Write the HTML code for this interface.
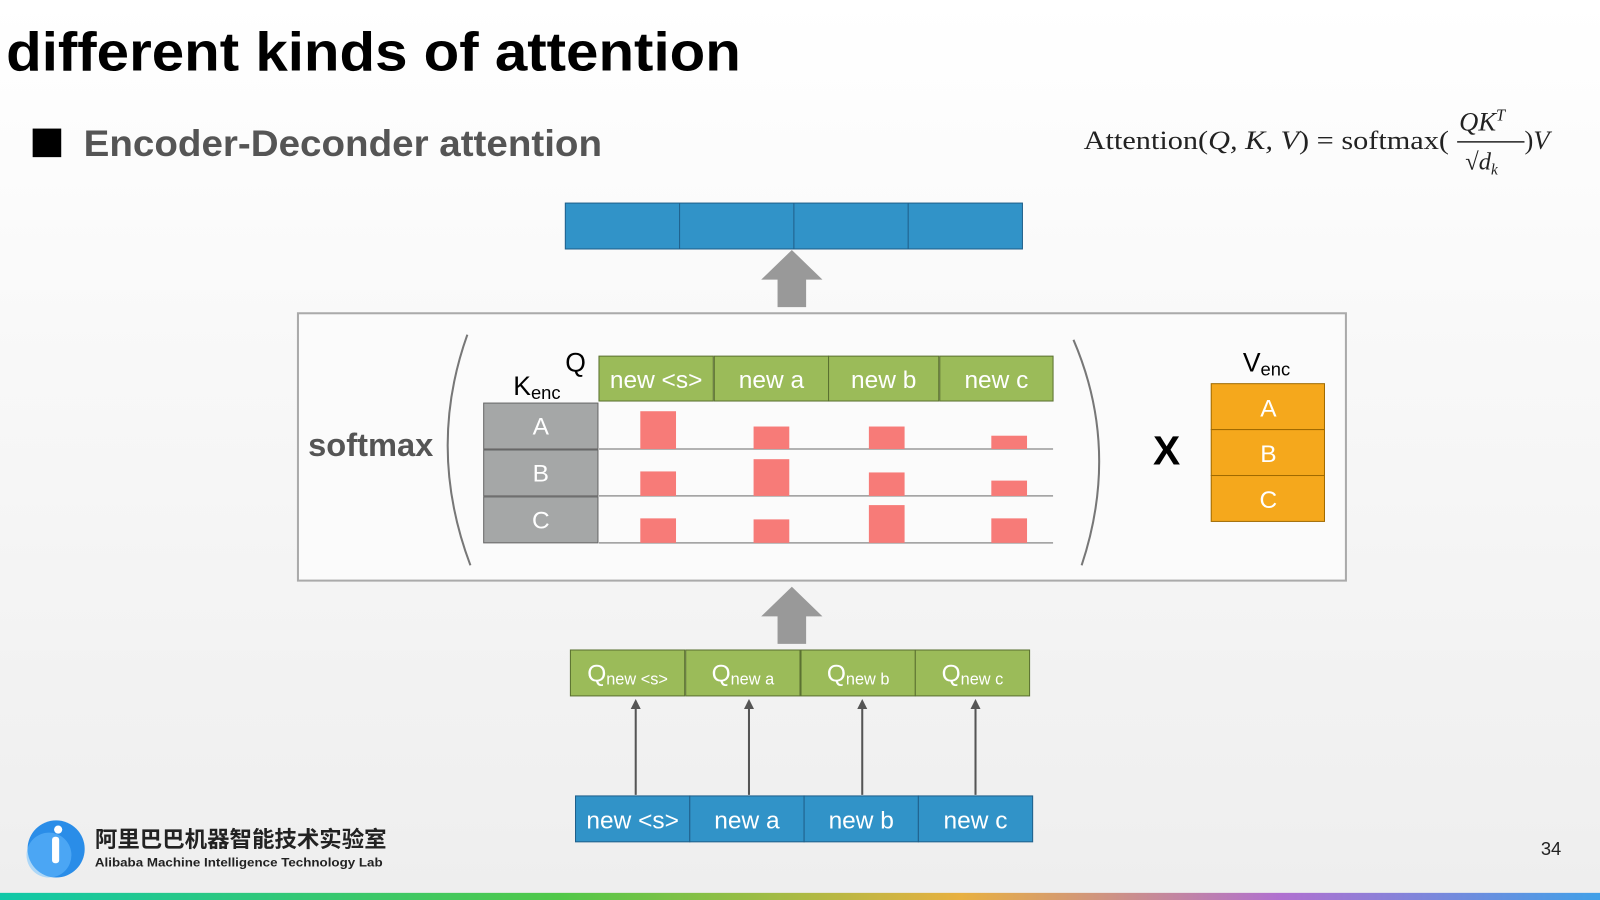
<!DOCTYPE html>
<html><head><meta charset="utf-8"><style>
html,body{margin:0;padding:0;width:1600px;height:900px;overflow:hidden;background:#fff}
svg{display:block}
text{font-family:"Liberation Sans","Noto Sans CJK SC",sans-serif}
text.serif{font-family:"Liberation Serif",serif}
</style></head><body>
<svg width="1600" height="900" viewBox="0 0 1568 882">
<defs>
<linearGradient id="bg" x1="0" y1="0" x2="0" y2="1"><stop offset="0" stop-color="#ffffff"/><stop offset="1" stop-color="#eeeeee"/></linearGradient>
<linearGradient id="bar" x1="0" y1="0" x2="1" y2="0"><stop offset="0" stop-color="#10c8a8"/><stop offset="0.35" stop-color="#50c848"/><stop offset="0.6" stop-color="#e8b040"/><stop offset="0.8" stop-color="#b070d0"/><stop offset="1" stop-color="#40a0e8"/></linearGradient>
<marker id="ah" viewBox="0 0 10 10" refX="5" refY="5" markerWidth="5" markerHeight="5" orient="auto"><path d="M0,0L10,5L0,10z" fill="#555"/></marker>
</defs>
<rect width="1568" height="882" fill="url(#bg)"/>
<rect y="875" width="1568" height="7" fill="url(#bar)"/>
<text x="6" y="69" font-size="54" font-weight="bold" fill="#000" textLength="720" lengthAdjust="spacingAndGlyphs">different kinds of attention</text>
<rect x="32" y="126" width="28" height="28" fill="#000"/>
<text x="82" y="153" font-size="36" font-weight="bold" fill="#555" textLength="508" lengthAdjust="spacingAndGlyphs">Encoder-Deconder attention</text>
<text class="serif" x="1062" y="146" font-size="26" fill="#222" textLength="358" lengthAdjust="spacingAndGlyphs">Attention(<tspan font-style="italic">Q, K, V</tspan>) = softmax(</text>
<text class="serif" x="1430" y="128" font-size="26" font-style="italic" fill="#222">QK<tspan font-size="16" dy="-10">T</tspan></text>
<line x1="1428" y1="139" x2="1494" y2="139" stroke="#222" stroke-width="1.5"/>
<text class="serif" x="1436" y="166" font-size="24" fill="#222">√<tspan font-style="italic">d</tspan><tspan font-size="15" dy="5" font-style="italic">k</tspan></text>
<text class="serif" x="1494" y="146" font-size="26" fill="#222">)<tspan font-style="italic">V</tspan></text>

<g>
<rect x="554" y="199" width="448" height="45" fill="#3193c8" stroke="#1f5f8a"/>
<line x1="666" y1="199" x2="666" y2="244" stroke="#1f5f8a"/><line x1="778" y1="199" x2="778" y2="244" stroke="#1f5f8a"/><line x1="890" y1="199" x2="890" y2="244" stroke="#1f5f8a"/>
</g>
<path d="M776,245L806,274H790V301H762V274H746Z" fill="#999"/>
<rect x="292" y="307" width="1027" height="262" fill="#fbfbfb" stroke="#aaa" stroke-width="2"/>
<text x="302" y="447" font-size="32" font-weight="bold" fill="#555">softmax</text>
<path d="M458,328Q418,440 461,554" fill="none" stroke="#777" stroke-width="2"/>
<path d="M1052,333Q1098,440 1060,554" fill="none" stroke="#777" stroke-width="2"/>
<text x="554" y="364" font-size="26" fill="#000">Q</text>
<text x="503" y="387" font-size="26" fill="#000">K<tspan font-size="18" dy="4">enc</tspan></text>
<g id="qhead"></g>
<g id="krows"></g>
<g id="heat"></g>
<text x="1130" y="455" font-size="40" font-weight="bold" fill="#000">X</text>
<text x="1218" y="364" font-size="26" fill="#000">V<tspan font-size="18" dy="4">enc</tspan></text>
<g id="vrows"></g>
<path d="M776,575L806,604H790V631H762V604H746Z" fill="#999"/>
<g id="qvec"></g>
<g id="inp"></g>

<g>
<circle cx="55" cy="832" r="28" fill="#2a8de8"/><circle cx="48" cy="838" r="22" fill="#6cc0ff" opacity="0.5"/>
<rect x="51" y="820" width="7" height="26" rx="3" fill="#fff"/><circle cx="57" cy="813" r="4" fill="#fff"/>
<text x="93" y="830" font-size="22" font-weight="bold" fill="#222">阿里巴巴机器智能技术实验室</text>
<text x="93" y="849" font-size="12" font-weight="bold" fill="#222" textLength="282" lengthAdjust="spacingAndGlyphs">Alibaba Machine Intelligence Technology Lab</text>
</g>
<text x="1510" y="838" font-size="18" fill="#222">34</text>
</svg>
<script>
const queries=["new <s>","new a","new b","new c"];
const keys=["A","B","C"];
const weights=[[37,22,22,13],[24,36,23,15],[24,23,37,24]];
const NS="http://www.w3.org/2000/svg";
function mk(tag,attrs,parent,txt){const e=document.createElementNS(NS,tag);for(const k in attrs)e.setAttribute(k,attrs[k]);if(txt!==undefined)e.textContent=txt;parent.appendChild(e);return e;}
const colX=[587,700,812,921],colW=[112,112,108,111];
const colC=[645,756,869,989];
const rowTop=[395,441,487],rowH=45,scale=1;
const qh=document.getElementById('qhead');
queries.forEach((q,i)=>{
 const r=mk('rect',{x:colX[i],y:349,width:colW[i],height:44,fill:'#9bbb59',stroke:'#5a7030'},qh);
 
 
 mk('text',{x:colX[i]+colW[i]/2,y:380,'font-size':24,fill:'#fff','text-anchor':'middle'},qh,q);
});
const kr=document.getElementById('krows'),ht=document.getElementById('heat');
keys.forEach((k,j)=>{
 const r=mk('rect',{x:474,y:rowTop[j],width:112,height:rowH,fill:'#a5a7a7',stroke:'#666'},kr);
 
 
 mk('text',{x:530,y:rowTop[j]+31,'font-size':24,fill:'#fff','text-anchor':'middle'},kr,k);
 const base=rowTop[j]+rowH;
 mk('line',{x1:587,y1:base,x2:1032,y2:base,stroke:'#999','stroke-width':1.5},kr);
 weights[j].forEach((w,i)=>{
  const b=mk('rect',{x:colC[i]-17.5,y:base-w*scale,width:35,height:w*scale,fill:'#f77b78'},ht);
  
  
 });
});
const vr=document.getElementById('vrows');
keys.forEach((k,j)=>{
 const r=mk('rect',{x:1187,y:376+j*45,width:111,height:45,fill:'#f5a81c',stroke:'#a06a00'},vr);
 
 
 mk('text',{x:1243,y:408+j*45,'font-size':24,fill:'#fff','text-anchor':'middle'},vr,k);
});
const qv=document.getElementById('qvec'),ip=document.getElementById('inp');
const qx=[559,672,785,897],ix=[564,676,788,900],ac=[623,734,845,956];
queries.forEach((q,i)=>{
 const r=mk('rect',{x:qx[i],y:637,width:112,height:45,fill:'#9bbb59',stroke:'#5a7030'},qv);
 
 
 const t=mk('text',{x:qx[i]+56,y:668,'font-size':24,fill:'#fff','text-anchor':'middle'},qv,'Q');
 mk('tspan',{'font-size':16,dy:3},t,q);
 const r2=mk('rect',{x:ix[i],y:780,width:112,height:45,fill:'#3193c8',stroke:'#1f5f8a'},ip);
 
 
 mk('text',{x:ix[i]+56,y:812,'font-size':24,fill:'#fff','text-anchor':'middle'},ip,q);
 mk('line',{x1:ac[i],y1:779,x2:ac[i],y2:690,stroke:'#555','stroke-width':2,'marker-end':'url(#ah)'},ip);
});
</script>
</body></html>
